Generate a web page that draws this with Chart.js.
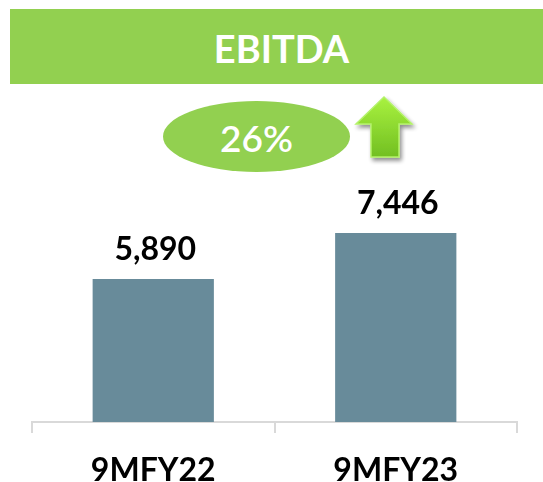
<!DOCTYPE html>
<html>
<head>
<meta charset="utf-8">
<script src="https://cdn.jsdelivr.net/npm/chart.js@4"></script>
<style>
  html,body{margin:0;padding:0;background:#fff;}
  body{width:543px;height:482px;position:relative;overflow:hidden;font-family:Lato,"Open Sans",sans-serif;}
  #banner{position:absolute;left:10px;top:9px;width:543px;height:75px;background:#92d050;color:#fff;
    font-weight:bold;font-size:38px;display:flex;align-items:center;justify-content:center;line-height:1;padding-top:3px;box-sizing:border-box;}
  #pill{position:absolute;left:163px;top:101px;width:187px;height:71px;border-radius:50%;background:#92d050;color:#fff;
    font-size:37px;font-weight:600;display:flex;align-items:center;justify-content:center;line-height:1;padding-top:2px;box-sizing:border-box;}
  #arrow{position:absolute;left:346px;top:90px;}
  #c{position:absolute;left:0;top:0;}
</style>
</head>
<body>
<canvas id="c" width="543" height="482"></canvas>
<div id="banner">EBITDA</div>
<div id="pill">26%</div>
<svg id="arrow" width="80" height="80" viewBox="0 0 80 80">
  <defs>
    <linearGradient id="g" x1="0" y1="0" x2="0" y2="1">
      <stop offset="0" stop-color="#a9f23f"/>
      <stop offset="1" stop-color="#72bf22"/>
    </linearGradient>
    <filter id="s" x="-30%" y="-30%" width="160%" height="160%">
      <feGaussianBlur in="SourceAlpha" stdDeviation="2"/>
      <feOffset dx="2" dy="3" result="b"/>
      <feComponentTransfer><feFuncA type="linear" slope="0.45"/></feComponentTransfer>
      <feMerge><feMergeNode/><feMergeNode in="SourceGraphic"/></feMerge>
    </filter>
  </defs>
  <polygon points="38,7 66,34 53,34 53,67 25,67 25,34 10,34" fill="url(#g)" stroke="#b4f26a" stroke-width="1.5" filter="url(#s)"/>
</svg>
<script>
const categories = ["9MFY22", "9MFY23"];
const ebitdaValues = [5890, 7446];

const valueLabels = {
  id: 'valueLabels',
  afterDatasetsDraw(chart) {
    const ctx = chart.ctx;
    const meta = chart.getDatasetMeta(0);
    ctx.save();
    ctx.font = 'bold 32px Lato, "Open Sans", sans-serif';
    ctx.fillStyle = '#000';
    ctx.textAlign = 'center';
    ctx.textBaseline = 'alphabetic';
    meta.data.forEach((bar, i) => {
      const v = chart.data.datasets[0].data[i];
      ctx.fillText(v.toLocaleString('en-US'), bar.x + 2, bar.y - 19);
    });
    ctx.restore();
  }
};

new Chart(document.getElementById('c'), {
  type: 'bar',
  data: {
    labels: categories,
    datasets: [{
      data: ebitdaValues,
      backgroundColor: '#688b9a',
      borderWidth: 0,
      categoryPercentage: 1,
      barPercentage: 0.5
    }]
  },
  options: {
    responsive: false,
    animation: false,
    devicePixelRatio: 1,
    layout: { padding: { left: 32, right: 26, top: 160, bottom: 0 } },
    plugins: { legend: { display: false }, tooltip: { enabled: false } },
    scales: {
      x: {
        afterFit(scale) { scale.height = 60; },
        border: { display: true, color: '#d9d9d9', width: 2 },
        grid: { display: true, drawOnChartArea: false, drawTicks: true, tickLength: 11, color: '#d9d9d9', lineWidth: 2, offset: true },
        ticks: { color: '#000', padding: 18, font: { family: 'Lato', size: 32, weight: 'bold' } }
      },
      y: { display: false, min: 1053, max: 9915 }
    }
  },
  plugins: [valueLabels]
});
</script>
</body>
</html>
